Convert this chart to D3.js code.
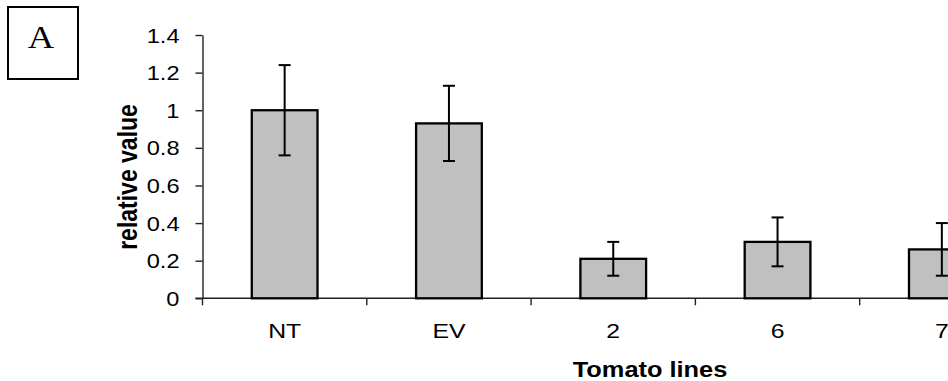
<!DOCTYPE html>
<html>
<head>
<meta charset="utf-8">
<script src="https://cdn.jsdelivr.net/npm/d3@7"></script>
<style>
  body { margin: 0; background: #fff; }
  svg { display: block; }
  text { font-family: Arial, "Liberation Sans", sans-serif; fill: #000; }
</style>
</head>
<body>
<svg id="chart" width="948" height="381"></svg>
<script>
// values
var lines = ["NT", "EV", "2", "6", "7"];
var relValue = [1.0, 0.93, 0.21, 0.30, 0.26];
var relErr = [0.24, 0.20, 0.09, 0.13, 0.14];
var yTicks = [0, 0.2, 0.4, 0.6, 0.8, 1, 1.2, 1.4];

(function() {

    var svg = d3.select("#chart");
    var stretch = 1.18;   // the source figure is a bit wider than tall

    var plotLeft = 202.5, plotBase = 298.3, plotTop = 35;
    var step = 164.3;

    var x = d3.scaleBand()
        .domain(lines)
        .range([plotLeft, plotLeft + step * lines.length])
        .paddingInner(0.6)
        .paddingOuter(0.3);

    var y = d3.scaleLinear()
        .domain([0, 1.4])
        .range([plotBase, plotTop]);

    // panel letter box
    svg.append("rect")
        .attr("x", 8).attr("y", 7)
        .attr("width", 70).attr("height", 72)
        .attr("fill", "none").attr("stroke", "#000").attr("stroke-width", 2);

    svg.append("text")
        .attr("transform", "translate(41,48) scale(" + stretch + ",1)")
        .attr("text-anchor", "middle")
        .style("font-family", "'Liberation Serif', 'Times New Roman', serif")
        .style("font-size", "31px")
        .text("A");

    // y axis
    var yAxis = svg.append("g")
        .attr("transform", "translate(" + plotLeft + ",0)")
        .call(d3.axisLeft(y).tickValues(yTicks).tickSize(7).tickSizeOuter(0)
            .tickFormat(function(d) { return String(d); }));

    yAxis.select(".domain").attr("stroke", "#222").attr("stroke-width", 1.4);
    yAxis.selectAll(".tick line").attr("stroke", "#222").attr("stroke-width", 1.4);
    yAxis.selectAll(".tick text")
        .attr("x", null).attr("dy", null)
        .attr("transform", "translate(-23,7) scale(" + stretch + ",1)")
        .attr("text-anchor", "end")
        .attr("fill", "#000")
        .style("font-size", "20px")
        .style("font-family", "Arial, 'Liberation Sans', sans-serif");

    // x axis line and category boundary ticks
    svg.append("line")
        .attr("x1", plotLeft - 7).attr("x2", 948)
        .attr("y1", plotBase).attr("y2", plotBase)
        .attr("stroke", "#222").attr("stroke-width", 1.4);

    svg.selectAll(".xtick")
        .data(d3.range(lines.length + 1))
      .enter().append("line")
        .attr("class", "xtick")
        .attr("x1", function(i) { return plotLeft + i * x.step(); })
        .attr("x2", function(i) { return plotLeft + i * x.step(); })
        .attr("y1", plotBase).attr("y2", plotBase + 7)
        .attr("stroke", "#222").attr("stroke-width", 1.4);

    svg.selectAll(".xlabel")
        .data(lines)
      .enter().append("text")
        .attr("class", "xlabel")
        .attr("transform", function(d) {
            return "translate(" + (x(d) + x.bandwidth() / 2) + ",338) scale(" + stretch + ",1)"; })
        .attr("text-anchor", "middle")
        .style("font-size", "21px")
        .text(function(d) { return d; });

    // bars
    var bar = svg.selectAll(".bar")
        .data(lines)
      .enter().append("g")
        .attr("class", "bar");

    bar.append("rect")
        .attr("x", function(d) { return x(d); })
        .attr("y", function(d, i) { return y(relValue[i]); })
        .attr("width", x.bandwidth())
        .attr("height", function(d, i) { return plotBase - y(relValue[i]); })
        .attr("fill", "#c0c0c0")
        .attr("stroke", "#000")
        .attr("stroke-width", 2.3);

    // error bars
    var cap = 6;
    bar.each(function(d, i) {
        var g = d3.select(this),
            cx = x(d) + x.bandwidth() / 2,
            hi = y(relValue[i] + relErr[i]),
            lo = y(relValue[i] - relErr[i]);
        g.append("line")
            .attr("x1", cx).attr("x2", cx).attr("y1", hi).attr("y2", lo)
            .attr("stroke", "#000").attr("stroke-width", 2);
        [hi, lo].forEach(function(v) {
            g.append("line")
                .attr("x1", cx - cap).attr("x2", cx + cap).attr("y1", v).attr("y2", v)
                .attr("stroke", "#000").attr("stroke-width", 2);
        });
    });

    // axis titles
    svg.append("text")
        .attr("transform", "translate(137,177) scale(" + stretch + ",1) rotate(-90)")
        .attr("text-anchor", "middle")
        .style("font-size", "23px")
        .style("font-weight", "bold")
        .text("relative value");

    svg.append("text")
        .attr("transform", "translate(650,377) scale(" + stretch + ",1)")
        .attr("text-anchor", "middle")
        .style("font-size", "21.5px")
        .style("font-weight", "bold")
        .text("Tomato lines");

})();
</script>
</body>
</html>
